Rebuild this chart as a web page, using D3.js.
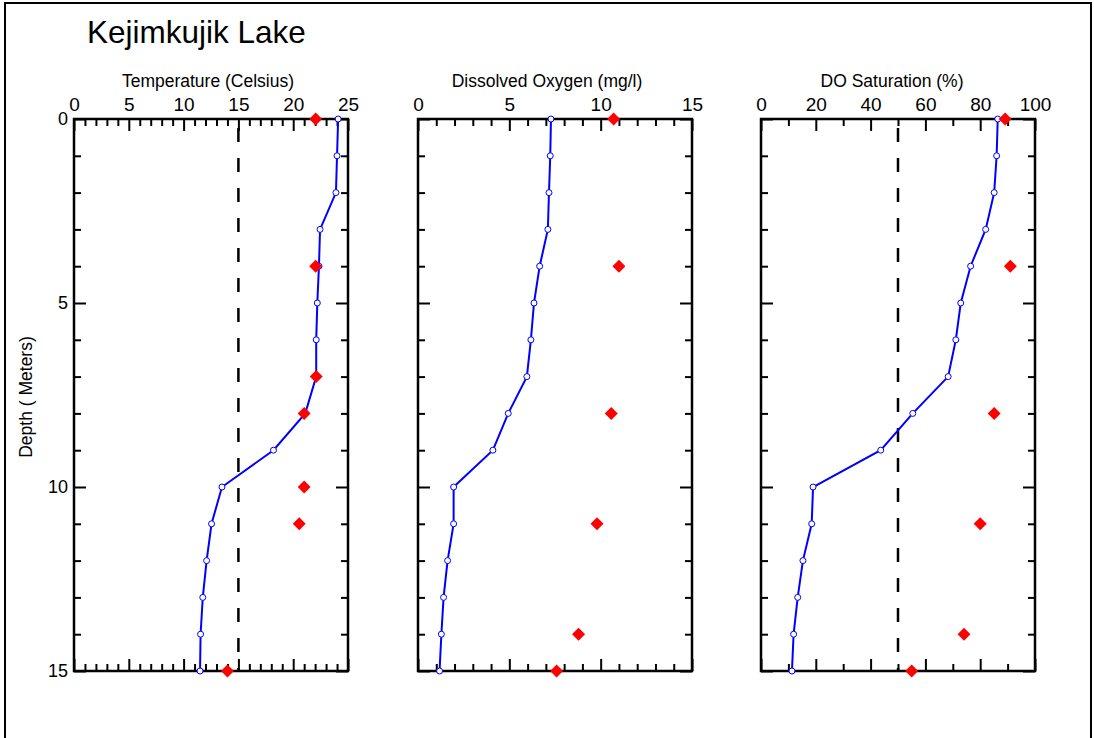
<!DOCTYPE html>
<html lang="en">
<head>
  <meta charset="UTF-8">
  <title>Kejimkujik Lake</title>
  <style>
    * { padding: 0; margin: 0; }
    html, body { width: 100%; height: 100%; overflow: hidden; background: #fff; }
    text { font-family: "Liberation Sans", Arial, sans-serif; fill: #000; }
  </style>
</head>
<body>
  <script src="https://cdn.jsdelivr.net/npm/d3@7"></script>
  <script>
    // depth of each profile reading (m)
    const depths = [0, 1, 2, 3, 4, 5, 6, 7, 8, 9, 10, 11, 12, 13, 14, 15]
    // blue profile readings
    const tempProfile = [24.1, 24.0, 23.9, 22.45, 22.35, 22.2, 22.1, 22.1, 21.1, 18.2, 13.5, 12.55, 12.1, 11.75, 11.55, 11.5]
    const doProfile = [7.28, 7.24, 7.17, 7.11, 6.66, 6.35, 6.18, 5.96, 4.94, 4.1, 1.95, 1.95, 1.62, 1.4, 1.28, 1.18]
    const satProfile = [86.4, 86.0, 85.1, 82.0, 76.5, 72.9, 71.1, 68.3, 55.4, 43.7, 19.0, 18.5, 15.3, 13.4, 11.9, 11.3]
    // red diamond readings
    const tempRedDepths = [0, 4, 7, 8, 10, 11, 15]
    const tempRed = [22.05, 22.05, 22.1, 21.0, 21.0, 20.55, 14.0]
    const doRedDepths = [0, 4, 8, 11, 14, 15]
    const doRed = [10.71, 11.0, 10.58, 9.8, 8.79, 7.59]
    const satRedDepths = [0, 4, 8, 11, 14, 15]
    const satRed = [89.1, 91.0, 85.1, 80.0, 74.1, 55.0]
    // axes
    const depthTicks = [0, 5, 10, 15]
    const tempTicks = [0, 5, 10, 15, 20, 25]
    const doTicks = [0, 5, 10, 15]
    const satTicks = [0, 20, 40, 60, 80, 100]

    const W = 1094, H = 738
    const plotTop = 119, plotBottom = 671

    const svg = d3.select('body').append('svg').attr('width', W).attr('height', H)

    // outer frame
    svg.append('rect').attr('x', 5).attr('y', 3).attr('width', 1086).attr('height', 800)
      .attr('fill', 'none').attr('stroke', '#000').attr('stroke-width', 2)

    svg.append('text').attr('x', 87).attr('y', 43).style('font-size', '31.5px').text('Kejimkujik Lake')

    const y = d3.scaleLinear().domain([0, 15]).range([plotTop, plotBottom])

    const panels = [
      { title: 'Temperature (Celsius)', titleX: 208, left: 74, right: 348, domain: [0, 25], major: tempTicks, step: 1,
        profile: tempProfile, redDepths: tempRedDepths, red: tempRed, ref: 15, yLabels: true },
      { title: 'Dissolved Oxygen (mg/l)', titleX: 547, left: 418, right: 692, domain: [0, 15], major: doTicks, step: 1,
        profile: doProfile, redDepths: doRedDepths, red: doRed, ref: null, yLabels: false },
      { title: 'DO Saturation (%)', titleX: 892, left: 761, right: 1035, domain: [0, 100], major: satTicks, step: 10,
        profile: satProfile, redDepths: satRedDepths, red: satRed, ref: 50, yLabels: false }
    ]

    const yMinor = d3.range(0, 16).filter(v => !depthTicks.includes(v))

    function styleAxis (sel, showLabels) {
      sel.attr('font-family', null).attr('font-size', null)
      sel.select('.domain').remove()
      sel.selectAll('.tick line').attr('stroke', '#000').attr('stroke-width', 2)
      if (!showLabels) sel.selectAll('.tick text').remove()
    }

    panels.forEach(p => {
      const x = d3.scaleLinear().domain(p.domain).range([p.left, p.right])
      const minor = d3.range(p.domain[0], p.domain[1] + 1e-9, p.step).filter(v => !p.major.includes(v))
      const g = svg.append('g')

      g.append('text').attr('x', p.titleX).attr('y', 87).attr('text-anchor', 'middle')
        .style('font-size', '17.5px').text(p.title)

      // top axis with labels
      g.append('g').attr('transform', `translate(0,${plotTop})`)
        .call(d3.axisTop(x).tickValues(p.major).tickSize(-12).tickSizeOuter(0).tickPadding(8).tickFormat(d3.format('d')))
        .call(s => styleAxis(s, true))
        .call(s => s.selectAll('text').style('font-size', '19px'))
      g.append('g').attr('transform', `translate(0,${plotTop})`)
        .call(d3.axisTop(x).tickValues(minor).tickSize(-7).tickSizeOuter(0).tickFormat(''))
        .call(s => styleAxis(s, false))

      // bottom axis
      g.append('g').attr('transform', `translate(0,${plotBottom})`)
        .call(d3.axisBottom(x).tickValues(p.major).tickSize(-12).tickSizeOuter(0))
        .call(s => styleAxis(s, false))
      g.append('g').attr('transform', `translate(0,${plotBottom})`)
        .call(d3.axisBottom(x).tickValues(minor).tickSize(-7).tickSizeOuter(0))
        .call(s => styleAxis(s, false))

      // left axis
      g.append('g').attr('transform', `translate(${p.left},0)`)
        .call(d3.axisLeft(y).tickValues(depthTicks).tickSize(-12).tickSizeOuter(0).tickPadding(6).tickFormat(d3.format('d')))
        .call(s => styleAxis(s, p.yLabels))
        .call(s => s.selectAll('text').style('font-size', '18px'))
      g.append('g').attr('transform', `translate(${p.left},0)`)
        .call(d3.axisLeft(y).tickValues(yMinor).tickSize(-7).tickSizeOuter(0))
        .call(s => styleAxis(s, false))

      // right axis
      g.append('g').attr('transform', `translate(${p.right},0)`)
        .call(d3.axisRight(y).tickValues(depthTicks).tickSize(-12).tickSizeOuter(0))
        .call(s => styleAxis(s, false))
      g.append('g').attr('transform', `translate(${p.right},0)`)
        .call(d3.axisRight(y).tickValues(yMinor).tickSize(-7).tickSizeOuter(0))
        .call(s => styleAxis(s, false))

      // box
      g.append('rect').attr('x', p.left).attr('y', plotTop).attr('width', p.right - p.left).attr('height', plotBottom - plotTop)
        .attr('fill', 'none').attr('stroke', '#000').attr('stroke-width', 2.5)

      // reference dashed line
      if (p.ref !== null) {
        g.append('line').attr('x1', x(p.ref)).attr('x2', x(p.ref)).attr('y1', plotTop).attr('y2', plotBottom)
          .attr('stroke', '#000').attr('stroke-width', 2.5)
          .attr('stroke-dasharray', '14,16').attr('stroke-dashoffset', 21)
      }

      // profile
      const pts = depths.map((d, i) => ({ d, v: p.profile[i] }))
      g.append('path').datum(pts)
        .attr('fill', 'none').attr('stroke', '#0000ff').attr('stroke-width', 2)
        .attr('d', d3.line().x(d => x(d.v)).y(d => y(d.d)))
      g.selectAll('circle.pt').data(pts).join('circle').attr('class', 'pt')
        .attr('cx', d => x(d.v)).attr('cy', d => y(d.d)).attr('r', 3)
        .attr('fill', '#fff').attr('stroke', '#0000ff').attr('stroke-width', 1)

      // red diamonds
      const reds = p.redDepths.map((d, i) => ({ d, v: p.red[i] }))
      g.selectAll('path.red').data(reds).join('path').attr('class', 'red')
        .attr('d', d3.symbol().type(d3.symbolSquare).size(84))
        .attr('transform', d => `translate(${x(d.v)},${y(d.d)}) rotate(45)`)
        .attr('fill', '#ff0000')
    })

    // y axis title
    svg.append('text').attr('transform', 'translate(32,397) rotate(-90)').attr('text-anchor', 'middle')
      .style('font-size', '17.5px').text('Depth ( Meters)')
  </script>
</body>
</html>
